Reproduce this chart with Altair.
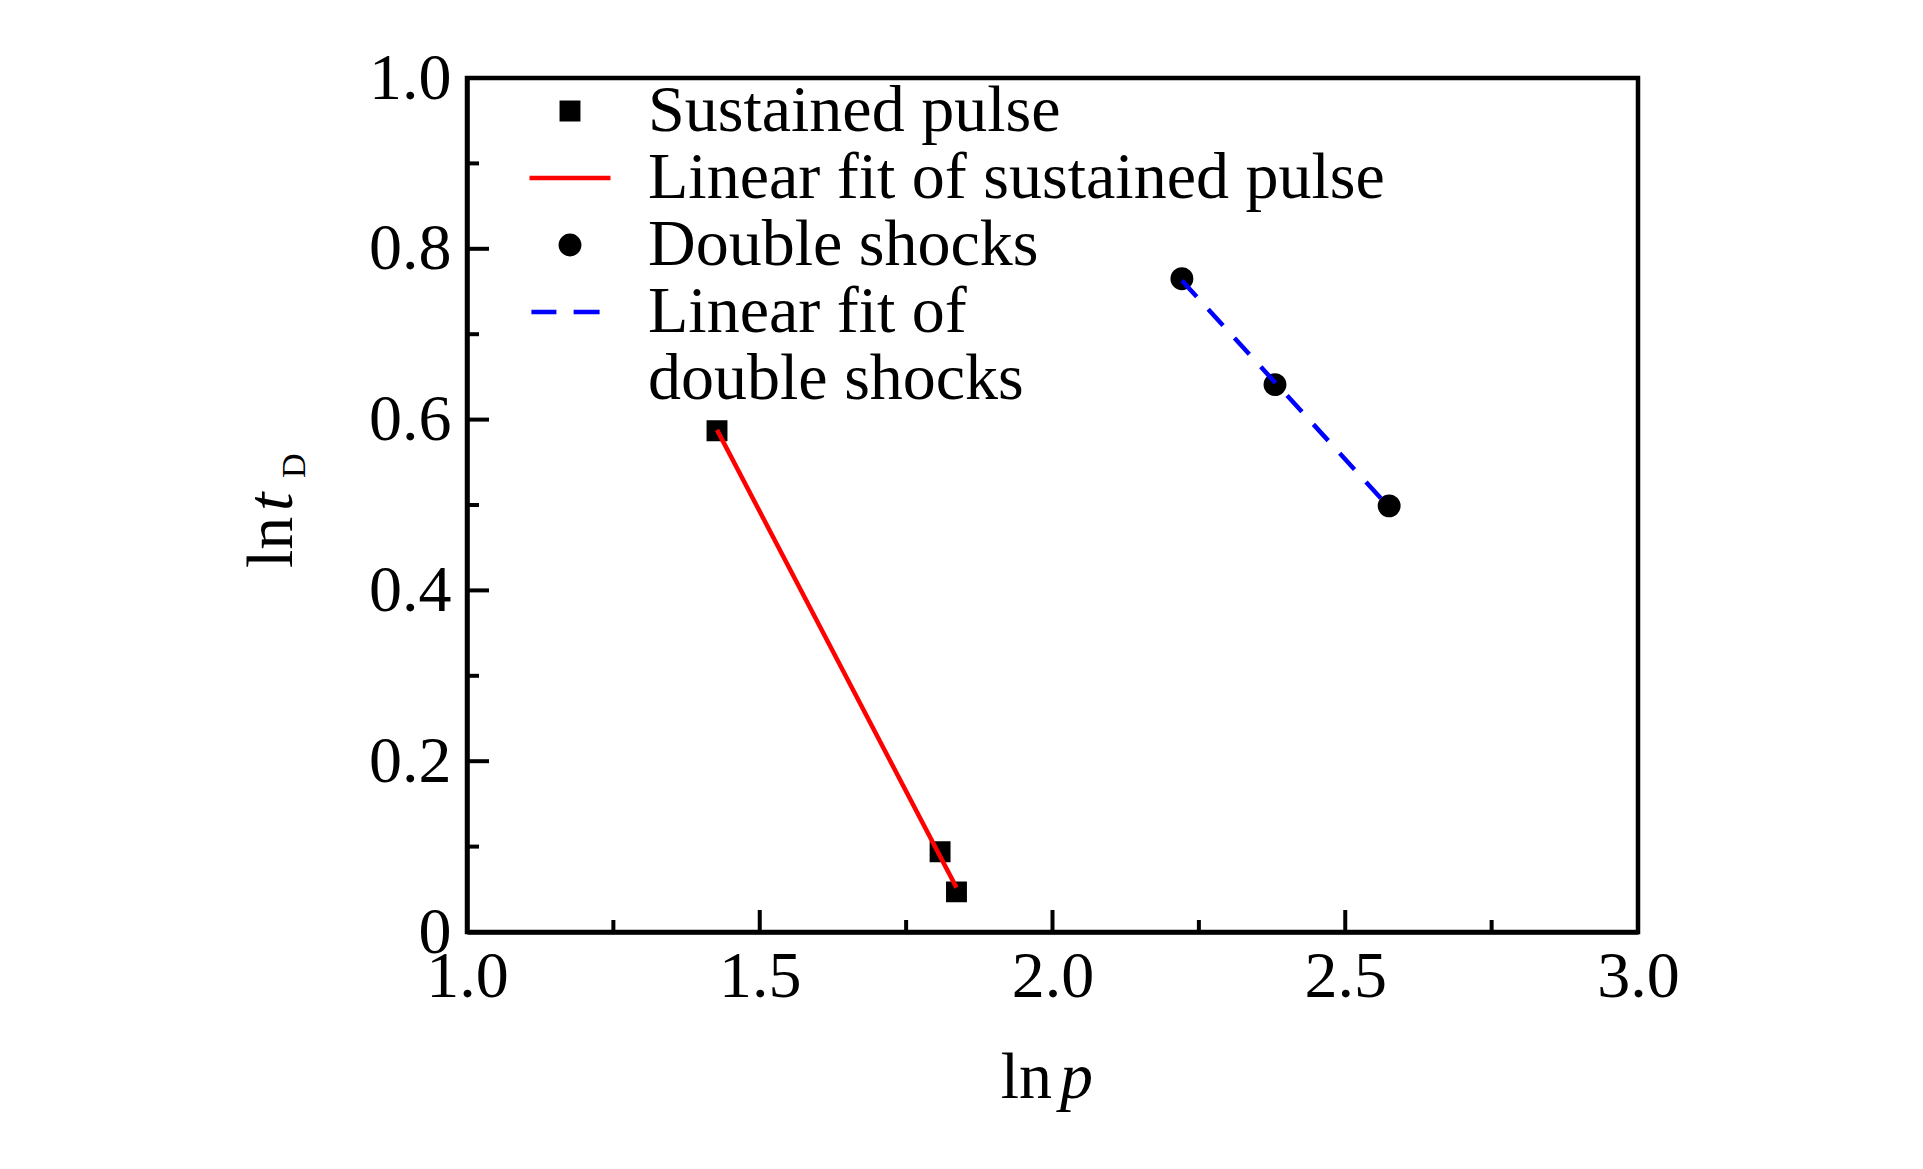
import altair as alt
import pandas as pd

# ---------------- data ----------------
SQ_X = [1.427, 1.808, 1.836]
SQ_Y = [0.587, 0.094, 0.047]
DS_X = [2.221, 2.380, 2.575]
DS_Y = [0.765, 0.641, 0.499]
FIT1_X = [1.427, 1.836]
FIT1_Y = [0.588, 0.052]
FIT2_X = [2.221, 2.574]
FIT2_Y = [0.763, 0.498]

SERIES = ["Sustained pulse", "Linear fit of sustained pulse", "Double shocks",
          "Linear fit of double shocks", "cont"]
LEGEND_LABELS = ["Sustained pulse", "Linear fit of sustained pulse", "Double shocks",
                 "Linear fit of", "double shocks"]

X_TICKS = [1.0, 1.5, 2.0, 2.5, 3.0]
X_MINOR = [1.25, 1.75, 2.25, 2.75]
Y_TICKS = [0.0, 0.2, 0.4, 0.6, 0.8, 1.0]
Y_MINOR = [0.1, 0.3, 0.5, 0.7, 0.9]
X_MAJOR_IN = [1.5, 2.0, 2.5]
Y_MAJOR_IN = [0.2, 0.4, 0.6, 0.8]

X_TITLE = ["ln", "p"]
Y_TITLE = ["ln", "t", "D"]

# ---------------- style ----------------
FONT = "Liberation Serif"
W, H = 1171, 854
LW = 4.5

SHAPES = [
    "M-0.41,-0.41H0.41V0.41H-0.41Z",
    "M-2.025,0H2.025",
    "M-0.46,0A0.46,0.46,0,1,0,0.46,0A0.46,0.46,0,1,0,-0.46,0Z",
    "M-1.93,0H-0.68M0.18,0H1.48",
    "M0,0",
]
FILLS = ["black", "transparent", "black", "transparent", "transparent"]
STROKES = ["black", "#ff0000", "black", "#0000ff", "transparent"]

label_expr = " : ".join(
    f"datum.label == '{s}' ? '{l}'" for s, l in zip(SERIES, LEGEND_LABELS)
) + " : datum.label"

pts = pd.DataFrame({
    "x": SQ_X + DS_X,
    "y": SQ_Y + DS_Y,
    "series": [SERIES[0]] * len(SQ_X) + [SERIES[2]] * len(DS_X),
})
fit1 = pd.DataFrame({"x": FIT1_X, "y": FIT1_Y})
fit2 = pd.DataFrame({"x": FIT2_X, "y": FIT2_Y})

xscale = alt.Scale(domain=[1, 3], nice=False, zero=False)
yscale = alt.Scale(domain=[0, 1], nice=False, zero=False)

legend = alt.Legend(
    title=None, orient="none", legendX=70, legendY=0,
    labelExpr=label_expr, labelFont=FONT, labelFontSize=66, labelColor="black",
    labelLimit=2000, labelOffset=45, rowPadding=1, padding=0,
    symbolSize=1600, symbolStrokeWidth=LW, symbolOffset=0,
)

x_axis = alt.Axis(values=X_TICKS, title=None, grid=False, ticks=False, tickSize=0,
                  labelFont=FONT, labelFontSize=66, labelColor="black",
                  labelPadding=12, labelFlush=False, labelOverlap=False,
                  format=".1f", domainColor="black", domainWidth=LW)
y_axis = alt.Axis(values=Y_TICKS, title=None, grid=False, ticks=False, tickSize=0,
                  labelFont=FONT, labelFontSize=66, labelColor="black",
                  labelPadding=16, labelFlush=False, labelOverlap=False,
                  labelExpr="datum.value == 0 ? '0' : format(datum.value, '.1f')",
                  domainColor="black", domainWidth=LW)

points = alt.Chart(pts).mark_point(filled=True, size=1600, strokeWidth=LW, opacity=1).encode(
    x=alt.X("x:Q", scale=xscale, axis=x_axis),
    y=alt.Y("y:Q", scale=yscale, axis=y_axis),
    shape=alt.Shape("series:N", scale=alt.Scale(domain=SERIES, range=SHAPES), legend=legend),
    fill=alt.Fill("series:N", scale=alt.Scale(domain=SERIES, range=FILLS), legend=legend),
    stroke=alt.Stroke("series:N", scale=alt.Scale(domain=SERIES, range=STROKES), legend=legend),
)

line1 = alt.Chart(fit1).mark_line(color="#ff0000", strokeWidth=LW).encode(
    x=alt.X("x:Q", scale=xscale), y=alt.Y("y:Q", scale=yscale))
line2 = alt.Chart(fit2).mark_line(color="#0000ff", strokeWidth=LW, strokeDash=[22, 17]).encode(
    x=alt.X("x:Q", scale=xscale), y=alt.Y("y:Q", scale=yscale))

def xticks(vals, length):
    return alt.Chart(pd.DataFrame({"x": vals})).mark_rule(color="black", strokeWidth=4).encode(
        x=alt.X("x:Q", scale=xscale), y=alt.value(H), y2=alt.value(H - length))

def yticks(vals, length):
    return alt.Chart(pd.DataFrame({"y": vals})).mark_rule(color="black", strokeWidth=4).encode(
        y=alt.Y("y:Q", scale=yscale), x=alt.value(0), x2=alt.value(length))

def txt(s, x, y, size=66, style="normal", align="left", angle=0):
    return alt.Chart(pd.DataFrame({"t": [s]})).mark_text(
        font=FONT, fontSize=size, fontStyle=style, align=align, baseline="alphabetic",
        angle=angle, color="black").encode(text="t:N", x=alt.value(x), y=alt.value(y))

titles = [
    txt(X_TITLE[0], 585, 1020, align="right"),
    txt(X_TITLE[1], 593, 1020, style="italic"),
    txt(Y_TITLE[0], -175, 490, angle=270),
    txt(Y_TITLE[1], -175, 433, style="italic", angle=270),
    txt(Y_TITLE[2], -162, 400, size=34, angle=270),
]

chart = alt.layer(
    points, line1, line2,
    xticks(X_MAJOR_IN, 22), xticks(X_MINOR, 12),
    yticks(Y_MAJOR_IN, 22), yticks(Y_MINOR, 12),
    *titles,
).properties(
    width=W, height=H,
    autosize=alt.AutoSizeParams(type="none"),
    padding={"left": 459, "top": 70, "right": 270, "bottom": 220},
    background="white",
).configure_view(stroke="black", strokeWidth=LW)

chart.save("out.html", embed_options={"renderer": "svg", "actions": False})
